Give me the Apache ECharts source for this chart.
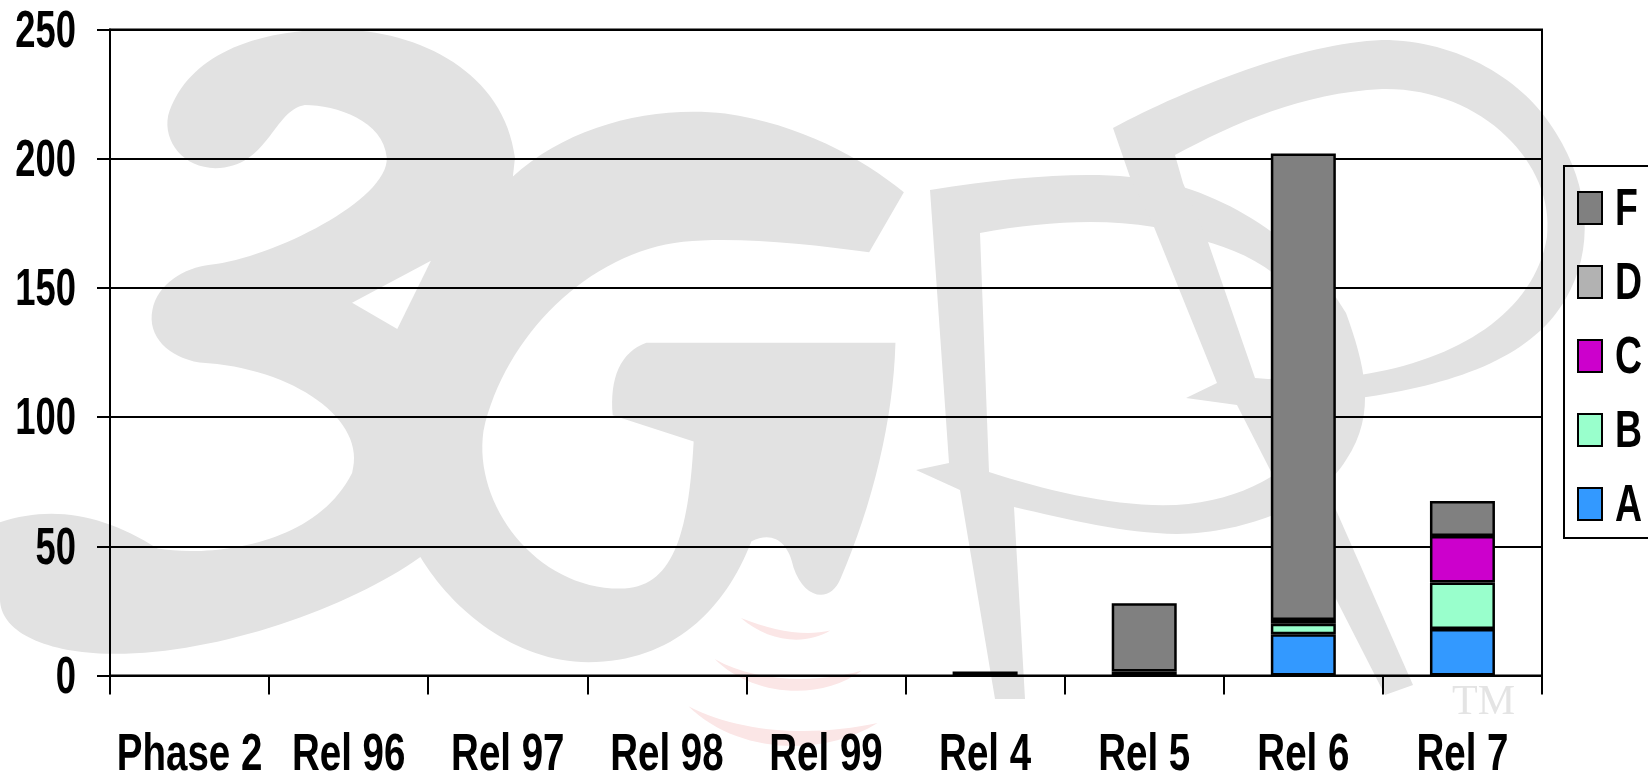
<!DOCTYPE html>
<html>
<head>
<meta charset="utf-8">
<style>
  html, body { margin: 0; padding: 0; background: #fff; overflow: hidden; }
  #chart { width: 1648px; height: 777px; }
</style>
<script src="https://cdn.jsdelivr.net/npm/echarts@6/dist/echarts.min.js"></script>
</head>
<body>
<div id="chart"></div>
<script>
var categories = ['Phase 2', 'Rel 96', 'Rel 97', 'Rel 98', 'Rel 99', 'Rel 4', 'Rel 5', 'Rel 6', 'Rel 7'];
var yTicks = [0, 50, 100, 150, 200, 250];
var valuesA = [null, null, null, null, null, 1.5, 1.5, 16, 18];
var valuesB = [null, null, null, null, null, null, null, 4, 18];
var valuesC = [null, null, null, null, null, null, null, 1.5, 18];
var valuesD = [null, null, null, null, null, null, null, null, null];
var valuesF = [null, null, null, null, null, null, 26.5, 180.5, 13.5];
var legendOrder = ['F', 'D', 'C', 'B', 'A'];

var labelFont = '"Liberation Sans", Arial, sans-serif';
var wmGrey = '#e2e2e2';
var wmRed = '#fbe6e6';

function bar (name, data, color) {
  return {
    name: name,
    type: 'bar',
    stack: 'total',
    barWidth: 65,
    data: data,
    itemStyle: { color: color, borderColor: '#000', borderWidth: 2.5 }
  };
}

// 3GPP logo behind the plot
var wmCount = 0;
function wm (d, fill) {
  var shapeName = 'logoPart' + (wmCount++);
  echarts.graphic.registerShape(shapeName, echarts.graphic.extendPath(d, {}));
  return {
    type: shapeName,
    z: -10,
    silent: true,
    style: { fill: fill }
  };
}

// first parts were traced on the shrunk picture, so they go in a scaled group
var logoScaled = {
  type: 'group',
  scaleX: 1.051,
  scaleY: 1.051,
  children: [
    wm('M160 110C175 60 230 28 320 28C400 28 480 70 490 150L488 168C540 120 620 100 690 108C760 118 820 150 860 183L827 240C770 232 700 225 650 230C560 240 480 320 460 410C450 480 510 560 590 560C640 560 655 510 660 420L583 395C580 360 590 335 615 326L852 326C850 400 830 480 800 550C790 575 765 570 755 540C750 515 735 505 715 515C690 580 640 630 560 630C490 630 430 580 400 530C330 580 200 625 100 622C40 620 0 600 0 570L0 497C50 480 100 490 150 522C200 530 300 520 335 450C350 400 280 350 190 345C160 340 140 320 145 295C150 270 175 255 200 252C260 245 370 190 368 150C365 115 320 100 290 100C260 105 255 160 205 160C175 160 155 135 160 110Z', wmGrey),
    wm('M335 288L410 248L378 313Z', '#fff'),
    wm('M705 588C735 600 765 606 790 600C765 615 730 610 705 588Z', wmRed),
    wm('M680 627C720 650 780 650 820 638C780 668 715 662 680 627Z', wmRed),
    wm('M655 672C710 700 780 700 835 688C780 722 700 716 655 672Z', wmRed)
  ]
};
var logoP = wm('M930 190C1012 177 1079 172 1130 177C1212 183 1302 237 1346 313C1364 363 1378 413 1346 460C1320 503 1248 533 1177 534C1123 533 1070 520 1014 507L1025 699L995 699L960 490L916 470L949 463ZM980 233L989 472C1060 495 1150 515 1212 500C1270 488 1315 450 1329 413C1335 370 1310 310 1288 287C1265 262 1235 250 1208 242C1185 232 1170 229 1154 227C1100 218 1040 222 980 233Z', wmGrey);
var logoR = wm('M1113 128C1190 87 1302 43 1382 40C1458 40 1525 80 1556 133C1590 187 1595 250 1565 300C1530 360 1450 385 1360 398L1292 410L1413 685L1385 695L1237 405L1186 398L1217 383L1154 227L1130 177ZM1175 155L1183 183L1208 242L1255 378L1268 379L1360 375C1458 360 1534 313 1547 237C1556 163 1480 87 1382 89C1302 93 1235 123 1175 155Z', wmGrey);
var logoTm = {
  type: 'text',
  z: -10,
  silent: true,
  x: 1452,
  y: 682,
  style: { text: 'TM', fill: '#e4e4e4', font: '42px "Liberation Serif", serif' }
};

var chart = echarts.init(document.getElementById('chart'), null, { renderer: 'canvas' });
chart.setOption({
  animation: false,
  backgroundColor: '#fff',
  grid: {
    left: 110,
    top: 29.5,
    width: 1432,
    height: 646,
    outerBoundsMode: 'none',
    show: true,
    backgroundColor: 'transparent',
    borderColor: '#000',
    borderWidth: 2
  },
  legend: {
    data: legendOrder,
    orient: 'vertical',
    icon: 'rect',
    left: 1564,
    top: 166,
    padding: [25, 80, 17, 13],
    itemWidth: 24,
    itemHeight: 32,
    itemGap: 40,
    borderColor: '#000',
    borderWidth: 2,
    formatter: ' ',
    textStyle: { fontSize: 24 }
  },
  xAxis: {
    type: 'category',
    data: categories,
    axisLine: { lineStyle: { color: '#000', width: 2 } },
    axisTick: { show: true, length: 19, alignWithLabel: false, lineStyle: { color: '#000', width: 2 } },
    axisLabel: { show: false }
  },
  yAxis: {
    type: 'value',
    min: 0,
    max: 250,
    interval: 50,
    axisLine: { show: true, lineStyle: { color: '#000', width: 2 } },
    axisTick: { show: true, length: 13, lineStyle: { color: '#000', width: 2 } },
    axisLabel: { show: false },
    splitLine: { show: true, lineStyle: { color: '#000', width: 2 } }
  },
  series: [
    bar('A', valuesA, '#3399FF'),
    bar('B', valuesB, '#99FFCC'),
    bar('C', valuesC, '#CC00CC'),
    bar('D', valuesD, '#B2B2B2'),
    bar('F', valuesF, '#808080')
  ]
});

// no narrow bold font is installed, so labels are squeezed text placed from the axis scales
function squeezedText (text, x, y, align, squeeze) {
  return {
    type: 'text',
    z: 10,
    silent: true,
    x: x,
    y: y,
    scaleX: squeeze,
    style: {
      text: String(text),
      fill: '#000',
      font: 'bold 52px ' + labelFont,
      align: align,
      verticalAlign: 'middle'
    }
  };
}

var xLabels = categories.map(function (name) {
  return squeezedText(name, chart.convertToPixel({ xAxisIndex: 0 }, name), 756, 'center', 0.74);
});
var yLabels = yTicks.map(function (v) {
  return squeezedText(v, 76, chart.convertToPixel({ yAxisIndex: 0 }, v) + 3, 'right', 0.7);
});
var legendLabels = legendOrder.map(function (name, i) {
  return squeezedText(name, 1615, 211 + 74 * i, 'left', 0.72);
});

chart.setOption({
  graphic: [logoScaled, logoP, logoR, logoTm].concat(xLabels, yLabels, legendLabels)
});
</script>
</body>
</html>
